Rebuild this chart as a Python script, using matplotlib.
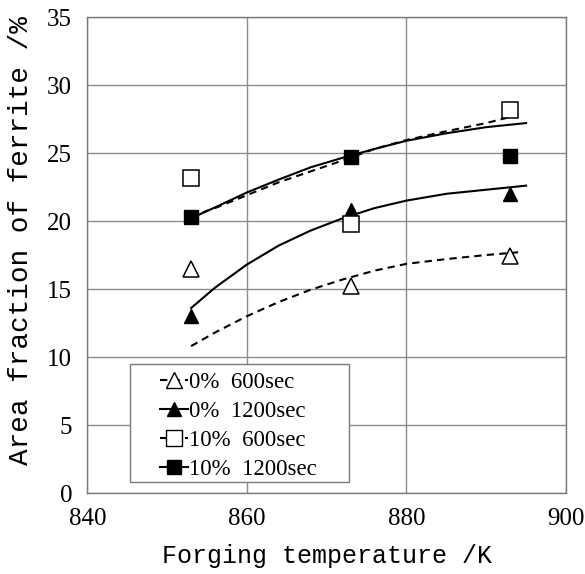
import matplotlib
matplotlib.use("Agg")
import matplotlib.pyplot as plt
from matplotlib.lines import Line2D
from matplotlib.patches import Rectangle

# measured points
temps = [853, 873, 893]
f0_600 = [16.5, 15.2, 17.4]
f0_1200 = [13.0, 20.8, 22.0]
f10_600 = [23.15, 19.8, 28.15]
f10_1200 = [20.3, 24.7, 24.75]

# trend curves
fit_x_solid = [853, 856, 860, 864, 868, 872, 876, 880, 885, 890, 895]
fit_x_dash = [853, 856, 860, 864, 868, 872, 876, 880, 885, 890, 894]
fit0_600 = [10.8, 11.8, 13.0, 14.05, 14.95, 15.7, 16.35, 16.85, 17.2, 17.5, 17.7]
fit0_1200 = [13.6, 15.1, 16.8, 18.2, 19.3, 20.2, 20.95, 21.5, 22.0, 22.3, 22.6]
fit10_600 = [20.35, 20.95, 21.9, 22.85, 23.65, 24.45, 25.3, 25.95, 26.6, 27.2, 27.8]
fit10_1200 = [20.2, 21.0, 22.1, 23.05, 23.95, 24.65, 25.3, 25.9, 26.45, 26.9, 27.2]

labels = ["0%  600sec", "0%  1200sec", "10%  600sec", "10%  1200sec"]

serif = "Liberation Serif"
mono = "Liberation Mono"
dash = (0, (3.5, 2.5))

fig = plt.figure(figsize=(5.85, 5.74), dpi=100)
ax = fig.add_axes([87.4 / 585, 1 - 493 / 574, (566 - 87.4) / 585, 476 / 574])

ax.plot(fit_x_dash, fit0_600, color="black", lw=1.5, ls=dash)
ax.plot(fit_x_solid, fit0_1200, color="black", lw=1.5)
ax.plot(fit_x_dash, fit10_600, color="black", lw=1.5, ls=dash)
ax.plot(fit_x_solid, fit10_1200, color="black", lw=1.5)

ax.plot(temps, f0_600, ls="none", marker="^", ms=11, mfc="white", mec="black", mew=1.1)
ax.plot(temps, f0_1200, ls="none", marker="^", ms=9.5, mfc="black", mec="black")
ax.plot(temps, f10_600, ls="none", marker="s", ms=11.5, mfc="white", mec="black", mew=1.1)
ax.plot(temps, f10_1200, ls="none", marker="s", ms=9.5, mfc="black", mec="black")

ax.set_xlim(840, 900)
ax.set_ylim(0, 35)
ax.set_xticks([840, 860, 880, 900])
ax.set_yticks(range(0, 36, 5))
ax.grid(True, color="#8c8c8c", lw=1.0)
ax.set_axisbelow(True)
for s in ax.spines.values():
    s.set_color("#7a7a7a")
    s.set_linewidth(1.0)
ax.tick_params(length=0, labelsize=18, pad=11)
for t in ax.get_xticklabels() + ax.get_yticklabels():
    t.set_fontfamily(serif)

ax.set_xlabel("Forging temperature /K", fontsize=18, family=mono, labelpad=10)
ax.set_ylabel("Area fraction of ferrite /%", fontsize=20, family=mono)
ax.yaxis.set_label_coords(-0.112, 0.53)

# legend box drawn separately so the entries can sit indented inside it
ax.add_patch(Rectangle((0.089, 0.023), 0.4577, 0.248, transform=ax.transAxes,
                       facecolor="white", edgecolor="#7a7a7a", lw=1.0, zorder=4.5))
handles = [
    Line2D([], [], color="black", lw=1.5, ls=dash, marker="^", ms=11, mfc="white", mec="black"),
    Line2D([], [], color="black", lw=1.5, marker="^", ms=9.5, mfc="black", mec="black"),
    Line2D([], [], color="black", lw=1.5, ls=dash, marker="s", ms=11.5, mfc="white", mec="black"),
    Line2D([], [], color="black", lw=1.5, marker="s", ms=9.5, mfc="black", mec="black"),
]
leg = ax.legend(handles, labels, loc="upper left", bbox_to_anchor=(0.152, 0.255),
                borderaxespad=0, borderpad=0, frameon=False,
                prop={"family": serif, "size": 16.5},
                handlelength=1.2, handletextpad=0.05, labelspacing=0.35)
leg.set_zorder(5)

fig.savefig("out.png", dpi=100)
